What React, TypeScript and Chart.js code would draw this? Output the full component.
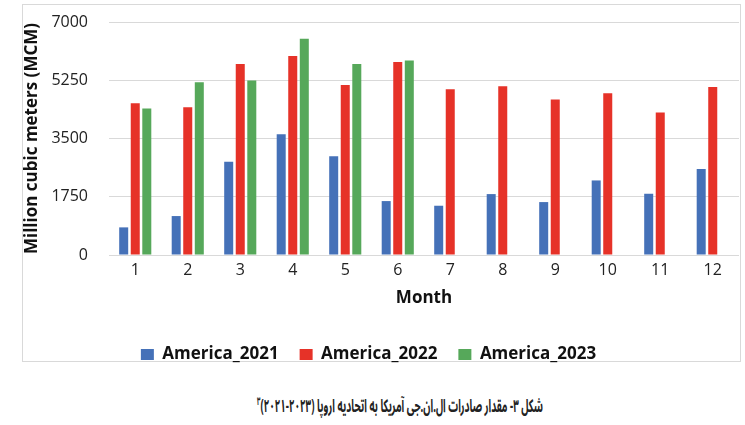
import React, { useEffect, useLayoutEffect, useRef, useState } from 'react';
import { Chart, registerables } from 'chart.js';

Chart.register(...registerables);

const months = ['1', '2', '3', '4', '5', '6', '7', '8', '9', '10', '11', '12'];
const america2021 = [830, 1170, 2800, 3630, 2970, 1620, 1480, 1830, 1590, 2240, 1840, 2580];
const america2022 = [4560, 4440, 5740, 5980, 5110, 5800, 4980, 5070, 4670, 4860, 4280, 5050];
const america2023 = [4400, 5190, 5240, 6500, 5740, 5840, null, null, null, null, null, null];
const yTicks = [0, 1750, 3500, 5250, 7000];
const seriesNames = ['America_2021', 'America_2022', 'America_2023'];
const caption = 'شکل ۳- مقدار صادرات ال.ان.جی آمریکا به اتحادیه اروپا (۲۰۲۳-۲۰۲۱)';
const footnote = '۳';

const FONT = "'Open Sans', 'Liberation Sans', sans-serif";

const borderPlugin = {
  id: 'outerBorder',
  beforeDraw(chart: any) {
    const ctx = chart.ctx;
    ctx.save();
    ctx.fillStyle = '#ffffff';
    ctx.fillRect(0, 0, chart.width, chart.height);
    ctx.strokeStyle = '#d9d9d9';
    ctx.lineWidth = 1;
    ctx.strokeRect(22.5, 4.5, 718, 357);
    ctx.restore();
  },
};

const legendShiftPlugin = {
  id: 'legendShift',
  afterLayout(chart: any) {
    const lg = chart.legend;
    if (lg) {
      lg.left -= 12;
      lg.right -= 12;
    }
  },
};

export default function App() {
  const ref = useRef<HTMLCanvasElement>(null);
  const capRef = useRef<HTMLSpanElement>(null);
  const [scaleX, setScaleX] = useState(1);

  useLayoutEffect(() => {
    if (capRef.current) {
      const w = capRef.current.getBoundingClientRect().width;
      if (w > 0) setScaleX(286 / w);
    }
  }, []);

  useEffect(() => {
    if (!ref.current) return;
    const chart = new Chart(ref.current, {
      type: 'bar',
      data: {
        labels: months,
        datasets: [
          { label: seriesNames[0], data: america2021, backgroundColor: '#4571b8' },
          { label: seriesNames[1], data: america2022, backgroundColor: '#e63228' },
          { label: seriesNames[2], data: america2023, backgroundColor: '#56a85a' },
        ],
      },
      plugins: [borderPlugin, legendShiftPlugin],
      options: {
        responsive: false,
        animation: false,
        devicePixelRatio: 1,
        layout: { padding: { left: 22, top: 22, right: 6, bottom: 4 } },
        datasets: { bar: { categoryPercentage: 0.66, barPercentage: 0.78 } },
        plugins: {
          tooltip: { enabled: false },
          legend: {
            position: 'bottom',
            labels: {
              boxWidth: 13,
              boxHeight: 11,
              padding: 21,
              color: '#111',
              font: { family: FONT, size: 17, weight: 'bold' },
            },
          },
        },
        scales: {
          x: {
            afterFit: (s: any) => {
              s.height = 70;
            },
            grid: { display: false, drawTicks: false },
            border: { display: false },
            ticks: { color: '#222', padding: 6, font: { family: FONT, size: 16 } },
            title: {
              display: true,
              text: 'Month',
              color: '#111',
              padding: { top: 0, bottom: 17 },
              font: { family: FONT, size: 17, weight: 'bold' },
            },
          },
          y: {
            min: 0,
            max: 7000,
            afterFit: (s: any) => {
              s.width = 87;
            },
            afterBuildTicks: (s: any) => {
              s.ticks = yTicks.map((v) => ({ value: v }));
            },
            grid: { color: '#d9d9d9', drawTicks: true, tickLength: 18, tickColor: 'rgba(0,0,0,0)' },
            border: { display: false },
            ticks: {
              color: '#222',
              padding: 3,
              font: { family: FONT, size: 16 },
              callback: (v: any) => String(v),
            },
            title: {
              display: true,
              text: 'Million cubic meters (MCM)',
              color: '#111',
              padding: { top: 0, bottom: 0 },
              font: { family: FONT, size: 17, weight: 'bold' },
            },
          },
        },
      },
    });
    return () => chart.destroy();
  }, []);

  return (
    <div style={{ position: 'absolute', left: 0, top: 0, width: 745, height: 425, background: '#fff' }}>
      <canvas ref={ref} width={745} height={377} style={{ display: 'block' }} />
      <div
        style={{
          position: 'absolute',
          top: 391,
          left: 400,
          transform: `translateX(-50%) scaleX(${scaleX})`,
          whiteSpace: 'nowrap',
        }}
      >
        <span
          ref={capRef}
          dir="rtl"
          style={{
            display: 'inline-block',
            fontFamily: "'Noto Sans Arabic', 'Noto Naskh Arabic', 'DejaVu Sans', sans-serif",
            fontWeight: 'bold',
            fontSize: 18,
            lineHeight: '22px',
            color: '#222',
          }}
        >
          {caption}
          <sup style={{ fontSize: 11 }}>{footnote}</sup>
        </span>
      </div>
    </div>
  );
}
